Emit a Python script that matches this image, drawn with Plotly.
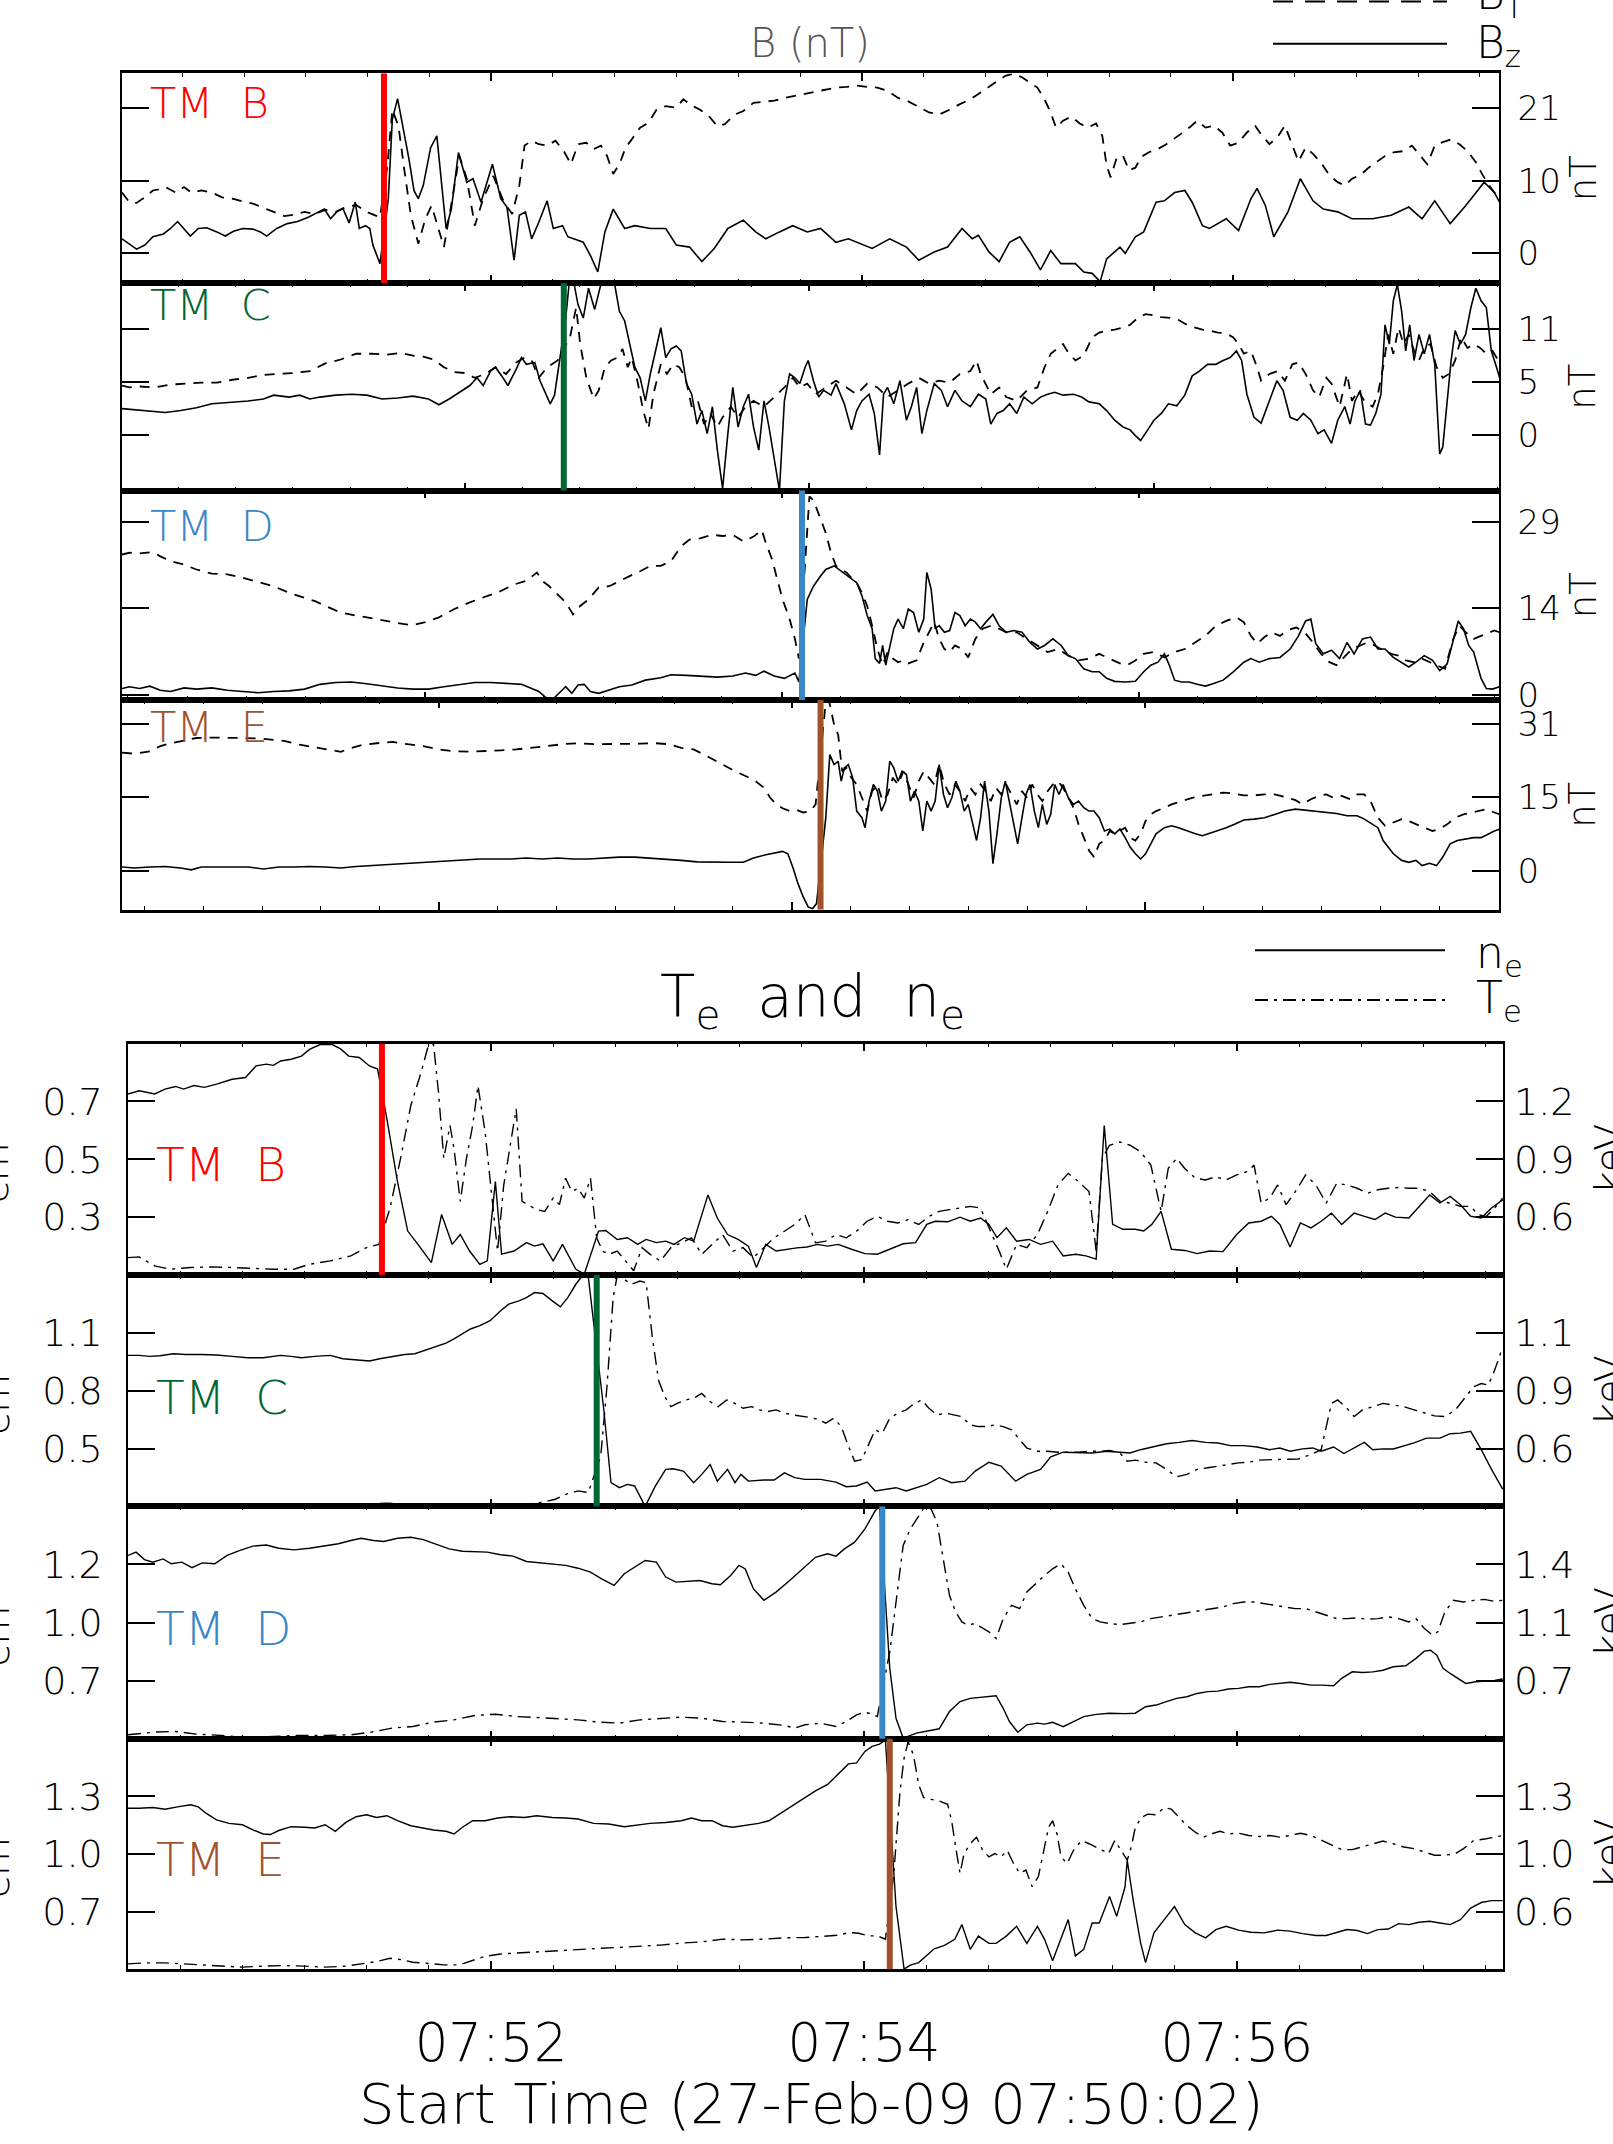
import plotly.graph_objects as go

# ------------------------------------------------------------------
# DATA  (time = seconds after 07:50:00 UT, 27-Feb-2009)
# ------------------------------------------------------------------
# Top block: magnetic field (nT); BT dashed, Bz solid
TOP_BT_B = [(0.5,8.8),(2.9,7.4),(5.2,7.3),(7.9,8.1),(10.5,9.1),(12.9,9.3),(14.5,9.6),(17.9,8.8),(20.6,9.6),(22.9,8.8),(26.2,9.1),(29.6,8.8),(32.9,8.1),(36.3,7.9),(39.6,7.5),(42.9,7.2),(47.3,6.4),(49.6,6.0),(53.0,5.4),(56.3,5.6),(59.6,6.0),(63.0,5.7),(66.3,6.3),(69.7,6.0),(73.0,6.7),(76.3,7.0),(79.7,6.0),(84.0,5.2),(86.4,12.7),(88.0,20.8),(90.0,18.4),(92.0,11.7),(94.0,5.5),(96.4,1.4),(98.7,5.0),(100.7,6.9),(102.7,4.0),(104.7,0.9),(107.4,7.9),(109.7,14.1),(112.1,10.8),(114.7,4.0),(117.4,7.9),(120.7,11.2),(124.1,7.4),(126.8,5.7),(129.1,9.8),(130.8,15.6),(133.1,16.3),(135.4,15.8),(138.1,15.6),(140.8,16.3),(143.5,14.8),(145.8,12.9),(148.1,15.8),(150.8,16.0),(153.2,15.1),(155.5,15.6),(157.5,14.1),(159.5,11.5),(161.5,12.9),(163.5,15.3),(165.5,16.5),(168.2,18.2),(170.9,18.9),(173.5,20.8),(176.5,21.3),(179.9,21.1),(182.2,22.3),(184.9,21.4),(187.6,20.8),(190.2,20.0),(193.2,18.4),(195.6,18.7),(198.9,20.1),(201.6,20.6),(204.9,21.8),(208.3,22.0),(211.6,22.1),(214.9,22.5),(218.3,22.8),(221.6,23.2),(225.0,23.5),(228.3,23.7),(231.6,24.0),(235.0,24.1),(238.3,24.3),(241.7,24.1),(245.0,24.0),(248.3,23.5),(251.7,22.5),(255.0,22.0),(258.4,21.2),(261.7,20.4),(265.0,20.1),(268.4,20.8),(271.7,21.6),(275.1,22.3),(278.4,23.3),(281.1,24.1),(283.8,24.9),(286.4,25.7),(289.1,26.0),(291.8,25.5),(294.4,24.7),(296.8,24.0),(299.1,22.3),(301.1,20.4),(302.8,18.2),(305.1,19.2),(307.8,19.8),(310.5,18.8),(313.1,18.2),(315.8,18.8),(317.8,17.0),(319.2,12.7),(320.5,11.0),(322.5,13.9),(324.5,14.1),(326.5,12.0),(328.5,12.4),(330.5,14.0),(333.2,14.7),(335.8,15.1),(338.5,15.8),(341.2,16.6),(343.9,17.5),(346.5,18.4),(348.5,19.2),(351.2,18.2),(353.9,18.5),(356.6,17.5),(359.2,15.6),(361.9,16.0),(364.6,17.5),(367.2,18.5),(369.2,17.2),(371.9,15.8),(374.6,16.9),(376.9,18.5),(379.3,15.6),(381.3,13.3),(383.6,15.3),(386.0,14.4),(388.6,13.1),(391.3,11.3),(394.0,10.3),(396.3,9.8),(398.6,10.8),(401.3,11.3),(404.0,12.4),(406.7,13.2),(409.3,14.1),(412.0,14.6),(415.3,14.8),(418.0,15.6),(420.7,14.1),(423.0,12.9),(425.4,15.6),(428.0,16.1),(430.7,16.5),(433.4,15.8),(436.0,14.8),(438.7,13.2),(440.7,11.5),(442.7,10.0),(444.7,8.8),(446.4,7.9)]
TOP_BZ_B = [(0.5,2.1),(2.9,1.3),(5.2,0.6),(7.9,1.2),(10.5,2.4),(13.9,2.8),(16.2,3.6),(18.5,4.6),(20.6,3.6),(22.6,2.5),(25.2,3.6),(27.9,3.7),(31.2,3.1),(33.9,2.5),(36.6,3.2),(39.6,3.6),(42.9,3.5),(45.3,3.1),(47.3,2.5),(50.6,3.6),(54.0,4.3),(57.3,4.6),(60.6,5.2),(64.0,6.0),(66.0,6.4),(68.0,5.0),(70.0,6.0),(72.0,6.5),(74.0,4.4),(76.0,7.4),(77.3,3.6),(79.3,4.0),(80.7,3.6),(81.7,1.2),(83.0,-0.3),(84.0,-1.5),(86.7,7.9),(88.0,19.4),(89.7,22.4),(91.4,18.4),(93.4,13.6),(95.0,9.1),(96.4,7.9),(98.0,9.8),(100.4,15.3),(102.4,17.0),(104.1,9.8),(105.4,3.6),(107.1,6.4),(109.4,14.6),(112.1,10.3),(114.1,10.8),(116.7,7.4),(120.4,12.9),(123.1,7.9),(125.1,6.7),(127.4,-1.0),(129.1,5.5),(131.1,6.0),(133.1,2.1),(135.4,4.5),(138.1,7.6),(140.1,3.6),(143.1,4.0),(144.8,2.4),(149.8,1.6),(152.1,-0.3),(154.5,-2.7),(156.8,3.1),(159.5,6.4),(163.2,3.6),(166.5,4.0),(171.5,3.6),(176.5,3.6),(179.9,1.2),(184.2,0.9),(188.2,-1.2),(192.2,0.7),(196.6,3.6),(201.6,4.8),(205.6,3.1),(208.9,2.1),(213.3,3.1),(217.6,4.0),(222.3,3.1),(226.6,3.6),(231.6,1.6),(235.6,2.1),(243.3,0.7),(249.0,2.1),(254.4,0.9),(258.4,-1.0),(263.4,0.2),(267.7,0.9),(272.4,3.6),(275.7,2.1),(277.7,2.6),(281.1,0.2),(284.4,-1.2),(287.8,1.6),(291.1,2.4),(294.4,0.2),(297.8,-2.4),(301.1,0.4),(304.4,-1.5),(309.1,-1.5),(311.8,-2.7),(314.5,-2.9),(317.1,-4.1),(319.2,-0.8),(321.8,0.2),(323.5,0.9),(325.2,0.0),(328.5,2.4),(331.2,3.1),(335.2,7.4),(337.9,7.6),(341.2,8.8),(344.5,9.1),(346.9,7.4),(350.2,4.0),(352.5,3.6),(357.9,5.0),(361.9,3.3),(365.9,7.9),(367.9,9.4),(370.6,6.9),(373.3,2.4),(377.9,6.0),(381.9,10.8),(386.0,7.6),(389.3,6.4),(394.0,6.0),(398.6,5.0),(405.3,5.0),(411.3,5.5),(417.0,6.7),(421.3,5.0),(425.4,7.6),(430.4,4.3),(435.4,6.9),(441.4,10.3),(444.7,8.8),(446.4,7.4)]
TOP_BT_C = [(0.5,5.1),(2.9,4.9),(6.2,5.0),(11.2,4.9),(16.2,5.2),(21.2,5.3),(26.2,5.4),(31.2,5.4),(36.3,5.7),(41.3,5.9),(46.3,6.2),(51.3,6.3),(56.3,6.4),(61.3,6.6),(66.3,7.4),(71.3,7.8),(76.3,8.4),(81.3,8.4),(86.4,8.3),(90.7,8.5),(94.7,8.2),(98.0,8.1),(101.4,7.8),(104.7,7.0),(108.1,6.5),(111.4,6.4),(114.7,5.9),(118.1,6.3),(121.4,7.0),(124.8,6.3),(128.1,7.5),(130.8,8.0),(133.1,7.7),(135.4,5.9),(138.1,7.0),(141.5,7.7),(145.5,10.1),(147.5,13.2),(148.8,9.4),(150.8,5.9),(153.2,3.7),(154.8,4.6),(156.8,7.0),(158.8,7.7),(160.8,8.0),(162.5,8.9),(164.2,7.0),(165.5,8.0),(167.5,5.3),(169.2,2.5),(170.9,0.6),(172.5,4.2),(174.9,7.3),(176.9,6.3),(178.9,7.3),(180.9,7.0),(182.9,5.9),(184.9,2.9),(186.9,3.5),(188.9,1.1),(190.9,2.2),(193.2,0.8),(194.9,1.8),(197.6,2.9),(199.9,1.8),(202.3,2.9),(204.9,3.5),(208.3,2.9),(211.6,3.9),(214.9,4.9),(217.6,5.9),(219.9,4.9),(222.3,5.3),(225.0,4.2),(228.3,4.9),(231.6,5.6),(235.0,4.9),(238.3,4.2),(241.7,5.3),(245.0,4.9),(248.3,3.9),(251.7,4.6),(255.0,5.3),(258.4,5.9),(261.7,5.3),(265.0,5.6),(268.4,5.4),(271.7,6.3),(275.1,6.6),(277.1,7.7),(278.4,6.3),(281.7,4.2),(284.4,4.9),(286.7,3.9),(290.1,3.5),(293.4,4.6),(296.8,4.9),(299.1,7.0),(301.1,8.4),(303.5,9.0),(305.1,9.4),(306.8,8.5),(309.1,7.7),(311.8,8.2),(314.5,10.1),(316.8,10.6),(319.2,10.8),(321.8,10.9),(324.5,11.1),(326.8,11.4),(329.2,12.1),(331.8,12.5),(334.5,12.4),(336.9,12.2),(340.2,12.1),(342.5,11.9),(345.2,11.4),(347.9,11.1),(350.2,10.9),(352.5,10.8),(355.2,10.6),(357.9,10.5),(360.2,10.1),(361.9,9.4),(363.6,8.4),(365.9,8.7),(367.9,7.0),(369.2,5.6),(371.9,6.3),(374.6,6.6),(376.9,5.6),(379.3,7.3),(381.3,7.5),(383.6,6.3),(386.0,4.6),(388.0,3.9),(390.3,5.9),(392.0,5.3),(394.6,2.9),(397.0,6.3),(398.6,3.5),(400.6,4.6),(402.6,3.5),(405.3,2.9),(407.0,4.2),(408.7,7.0),(410.3,10.4),(412.0,8.4),(413.7,11.1),(415.3,9.4),(417.0,10.4),(418.7,8.7),(420.3,7.7),(422.0,9.0),(424.0,9.4),(426.0,7.0),(428.0,5.9),(430.0,6.3),(432.0,7.7),(434.0,10.1),(436.0,9.0),(438.0,9.4),(440.1,9.0),(442.1,8.4),(444.1,8.7),(445.4,8.0),(446.4,7.7)]
TOP_BZ_C = [(0.5,2.7),(4.5,2.6),(9.5,2.4),(14.5,2.3),(19.5,2.5),(24.6,2.8),(29.6,3.2),(34.6,3.3),(41.3,3.5),(46.3,3.7),(49.6,4.1),(54.6,3.9),(58.0,4.1),(61.3,3.7),(64.6,3.9),(69.7,4.1),(74.7,4.2),(79.7,4.1),(84.7,3.7),(89.7,3.8),(94.7,4.0),(99.7,3.7),(103.1,3.1),(106.4,3.7),(109.7,4.4),(113.1,5.1),(115.4,5.9),(117.4,5.1),(119.8,6.6),(121.4,7.0),(123.8,5.9),(125.4,5.1),(128.1,6.8),(129.8,8.0),(131.4,7.3),(134.1,7.5),(135.8,5.6),(137.5,4.4),(139.1,3.2),(140.5,4.1),(141.8,7.0),(144.1,12.0),(145.5,16.6),(146.8,15.7),(148.1,13.5),(149.8,12.1),(151.5,15.2),(153.5,13.0),(155.5,15.6),(157.5,16.6),(159.8,15.9),(161.5,12.8),(163.2,11.8),(164.8,9.4),(166.5,7.0),(168.2,5.9),(169.9,3.5),(171.5,6.3),(173.5,9.0),(174.9,11.1),(176.5,8.0),(178.2,8.9),(179.9,9.2),(181.5,8.7),(183.2,5.3),(184.9,4.2),(186.6,1.1),(188.2,2.5),(189.9,0.1),(191.6,2.9),(193.2,-1.6),(194.9,-5.6),(196.6,0.1),(198.2,4.9),(199.9,0.8),(201.6,2.9),(203.3,4.2),(204.9,0.8),(206.6,-1.6),(208.3,3.5),(209.9,0.8),(211.6,-2.3),(213.3,-5.8),(214.9,3.5),(216.6,6.3),(218.3,5.9),(219.9,5.3),(221.6,7.0),(222.6,7.7),(224.3,5.6),(226.0,3.9),(227.6,4.6),(230.0,4.1),(231.6,5.3),(234.3,3.2),(236.6,0.5),(238.3,2.5),(240.0,3.5),(242.3,4.2),(244.0,2.2),(245.7,-2.1),(247.0,4.2),(248.3,4.9),(250.3,3.2),(252.3,5.6),(254.4,1.5),(256.0,2.9),(257.7,4.9),(259.4,0.1),(261.0,2.5),(263.4,5.3),(265.7,4.6),(267.7,2.9),(270.1,4.6),(272.4,3.5),(275.1,2.9),(277.7,4.2),(280.1,3.7),(281.7,1.1),(283.7,2.2),(285.7,2.5),(287.8,3.2),(290.1,2.2),(292.4,3.9),(295.1,3.2),(297.8,3.9),(300.1,4.2),(302.4,4.4),(305.1,4.1),(308.5,4.2),(311.1,3.9),(313.5,3.4),(316.8,3.2),(319.2,2.5),(321.8,1.5),(324.5,0.8),(326.8,0.5),(328.5,-0.1),(330.2,-0.6),(332.5,0.5),(334.5,1.5),(336.9,2.2),(339.2,3.2),(341.9,3.0),(344.5,4.1),(346.9,6.1),(349.2,6.6),(351.9,7.3),(354.6,7.3),(356.9,7.7),(359.2,8.0),(361.2,8.7),(362.9,7.7),(364.6,4.2),(366.9,1.8),(369.2,1.2),(371.9,3.5),(374.3,5.6),(376.3,4.6),(378.6,1.8),(380.9,1.5),(382.9,2.2),(385.3,1.5),(387.6,0.1),(389.6,0.5),(392.0,-0.9),(394.0,1.5),(396.3,2.9),(398.0,1.1),(399.6,3.5),(401.3,4.6),(403.0,1.1),(404.6,1.0),(406.3,2.2),(408.0,4.2),(409.3,11.4),(410.7,9.4),(412.0,13.9),(413.3,15.6),(414.7,12.8),(416.0,8.7),(417.3,11.4),(418.7,7.7),(420.3,10.4),(422.0,8.4),(423.7,10.4),(425.4,7.3),(427.0,-2.0),(428.0,-1.3),(429.4,3.5),(430.7,7.7),(432.0,10.8),(433.7,9.4),(435.4,10.4),(437.1,13.2),(438.7,15.2),(440.4,13.9),(442.1,13.2),(443.7,8.7),(445.4,7.0),(446.4,5.9)]
TOP_BT_D = [(0.5,23.5),(2.9,23.8),(6.2,23.7),(10.5,23.9),(12.9,23.2),(16.2,22.4),(20.6,21.8),(24.6,21.0),(29.6,20.3),(34.6,20.2),(39.6,19.6),(44.6,18.9),(49.6,18.2),(54.6,17.1),(59.6,16.3),(63.0,15.7),(66.3,14.9),(71.3,13.8),(76.3,13.3),(81.3,12.8),(86.4,12.3),(91.4,11.9),(94.7,11.7),(98.7,12.2),(103.1,13.0),(108.1,14.4),(113.1,15.5),(118.1,16.5),(123.1,17.4),(127.4,18.5),(131.4,19.1),(134.8,20.5),(136.5,19.1),(138.8,18.2),(141.5,16.9),(144.1,15.5),(146.5,13.5),(148.8,14.9),(151.5,16.0),(154.8,18.0),(158.2,18.2),(161.5,19.1),(164.8,19.9),(168.2,20.7),(171.5,21.6),(174.9,21.6),(178.2,22.4),(181.5,24.9),(184.2,26.0),(187.6,26.2),(191.6,26.8),(194.9,26.6),(198.2,26.8),(201.6,25.7),(204.9,26.5),(207.6,27.6),(208.9,25.4),(210.9,22.7),(212.3,19.9),(214.3,16.0),(216.6,12.7),(218.3,9.4),(219.6,6.1),(223.0,33.2),(224.3,32.6),(226.6,29.3),(228.3,27.1),(230.0,23.8),(231.6,21.6),(233.3,21.0),(235.0,20.5),(236.6,19.6),(238.3,18.8),(240.0,17.1),(241.7,14.9),(243.3,11.6),(245.0,7.7),(246.7,5.0),(248.3,7.2),(250.0,6.1),(251.7,5.5),(253.4,5.8),(255.0,5.3),(257.7,5.8),(260.0,8.8),(261.7,10.5),(263.4,12.2),(265.0,9.4),(266.7,7.7),(268.4,7.2),(270.1,8.3),(272.4,7.7),(274.4,6.3),(276.7,9.4),(279.1,11.1),(281.7,11.6),(284.4,11.1),(286.7,10.5),(290.1,10.5),(293.4,9.4),(296.8,8.3),(300.1,7.2),(303.5,7.7),(306.8,6.6),(310.1,5.8),(313.5,6.1),(316.8,6.9),(320.2,6.1),(323.5,5.3),(325.8,5.0),(328.5,5.8),(331.2,6.9),(334.5,7.2),(337.9,6.3),(341.2,7.2),(344.5,7.7),(347.9,8.8),(351.2,9.9),(354.6,11.6),(357.9,12.4),(361.2,13.0),(363.6,12.2),(365.9,9.9),(367.9,8.6),(370.3,9.7),(372.6,10.5),(375.3,9.9),(377.9,10.9),(380.6,11.3),(383.3,10.5),(386.0,8.8),(388.6,6.9),(391.3,5.5),(393.6,5.0),(396.0,6.3),(398.6,7.7),(401.3,8.3),(403.6,8.8),(406.0,8.3),(408.7,7.5),(411.3,6.9),(413.7,6.6),(416.0,5.8),(418.7,5.5),(421.3,6.1),(423.7,5.5),(426.0,5.0),(428.7,4.4),(431.4,9.4),(433.4,11.6),(435.4,10.5),(438.0,9.4),(440.4,9.9),(442.7,10.5),(444.7,10.8),(446.4,10.5)]
TOP_BZ_D = [(0.5,1.1),(2.9,1.4),(6.2,1.1),(9.5,1.5),(12.9,0.8),(16.2,0.6),(20.6,1.2),(24.6,1.0),(29.6,1.2),(34.6,0.8),(39.6,0.6),(44.6,0.4),(49.6,0.6),(54.6,0.7),(59.6,1.0),(64.6,1.8),(69.7,2.1),(74.7,2.2),(79.7,1.9),(84.7,1.5),(89.7,1.2),(94.7,1.0),(99.7,1.0),(104.7,1.4),(109.7,1.8),(114.7,2.1),(119.8,2.1),(124.8,1.9),(129.8,1.8),(133.1,1.1),(135.4,0.6),(138.1,-0.6),(140.5,-0.4),(142.5,0.6),(144.1,1.4),(146.1,0.3),(148.1,1.7),(150.1,1.8),(152.1,0.6),(154.8,0.3),(158.2,0.8),(161.5,1.4),(165.5,1.7),(169.9,2.5),(174.9,2.9),(178.2,3.4),(183.2,3.3),(188.2,3.2),(193.2,3.0),(198.2,3.2),(202.3,3.7),(205.6,3.3),(208.3,4.0),(211.6,3.2),(214.9,2.8),(218.3,3.7),(219.6,2.2),(222.3,16.0),(224.3,18.2),(226.6,19.9),(228.3,21.0),(231.0,21.6),(233.3,20.7),(235.6,19.9),(238.3,18.8),(240.0,16.6),(241.7,13.3),(243.3,11.1),(244.3,6.1),(245.7,5.3),(246.7,8.3),(247.7,5.0),(249.0,8.0),(250.3,11.1),(251.7,12.7),(253.4,11.1),(255.0,14.4),(256.7,13.8),(258.4,10.5),(260.0,12.7),(261.0,20.5),(262.4,17.7),(263.7,11.1),(265.0,11.6),(266.7,10.5),(268.4,10.8),(270.1,13.8),(271.7,13.3),(273.4,11.6),(275.1,12.7),(276.7,12.2),(278.4,11.1),(280.1,12.2),(282.4,13.5),(284.4,11.6),(286.7,10.5),(289.1,10.8),(291.8,10.5),(294.4,8.8),(296.8,7.7),(299.1,8.3),(301.8,9.4),(304.5,8.3),(306.8,6.6),(309.1,6.1),(311.8,4.4),(314.5,3.9),(316.8,3.9),(319.2,2.8),(321.8,2.3),(325.2,2.2),(328.5,2.3),(331.2,3.9),(333.5,5.0),(335.8,5.5),(337.9,6.9),(339.5,5.0),(341.2,2.5),(343.5,2.2),(345.9,2.2),(348.5,1.8),(351.2,1.5),(353.6,1.9),(356.9,2.5),(360.2,3.9),(363.6,5.5),(365.9,6.1),(368.6,5.5),(371.9,6.1),(375.3,6.3),(378.6,7.7),(381.3,9.9),(383.6,12.4),(385.3,12.7),(386.9,8.6),(389.3,6.9),(392.0,7.5),(394.6,6.1),(397.0,8.8),(399.3,6.9),(402.0,9.4),(404.6,9.7),(407.0,7.7),(409.3,7.7),(412.0,6.3),(414.7,5.5),(417.0,4.7),(419.3,5.5),(422.0,6.6),(424.7,5.8),(427.0,4.1),(429.4,5.2),(431.4,9.4),(433.0,12.4),(434.7,11.1),(436.4,8.3),(438.0,7.2),(440.4,2.8),(442.1,1.1),(444.1,1.0),(446.4,1.4)]
TOP_BT_E = [(0.5,24.9),(4.5,24.7),(9.5,25.2),(12.9,26.3),(16.2,26.9),(20.6,27.4),(24.6,28.0),(29.6,28.1),(34.6,28.1),(39.6,28.0),(44.6,27.9),(48.6,27.7),(53.0,27.4),(58.0,26.6),(63.0,26.0),(67.3,25.6),(71.3,25.1),(74.7,25.9),(78.7,26.6),(83.0,26.9),(88.0,27.2),(93.0,26.7),(98.0,26.3),(103.1,25.6),(108.1,25.2),(113.1,25.1),(118.1,25.2),(123.1,25.4),(128.1,25.6),(133.1,25.9),(138.1,26.3),(143.1,26.7),(148.1,26.9),(153.2,26.7),(158.2,26.7),(163.2,26.7),(168.2,26.8),(173.2,26.9),(177.5,26.7),(181.5,25.9),(185.5,25.6),(188.9,24.5),(192.2,23.3),(195.6,22.1),(198.9,21.0),(202.3,20.0),(205.6,18.9),(208.3,17.5),(210.3,15.4),(212.3,14.0),(214.3,13.2),(216.6,12.6),(219.0,12.8),(221.0,12.3),(223.3,12.6),(225.0,14.0),(228.3,35.7),(229.3,36.0),(231.0,30.8),(232.3,28.7),(233.6,21.0),(235.0,21.7),(236.6,19.6),(238.3,18.2),(240.0,15.4),(241.7,12.6),(243.3,16.8),(245.0,18.2),(246.7,14.7),(248.3,16.1),(250.0,19.6),(251.7,18.2),(253.4,21.0),(255.0,18.2),(256.7,15.4),(258.4,18.9),(260.0,21.0),(261.7,19.6),(263.4,18.2),(265.0,22.4),(266.7,18.2),(268.4,16.1),(270.1,18.2),(271.7,16.8),(273.4,14.7),(275.1,17.5),(276.7,16.1),(278.4,18.2),(280.1,16.8),(281.7,14.7),(283.4,17.5),(285.1,16.1),(286.7,18.2),(288.4,16.1),(290.1,14.0),(291.8,16.8),(293.4,15.4),(295.1,18.2),(296.8,16.1),(298.4,14.7),(300.1,16.8),(301.8,18.2),(303.5,18.9),(305.1,17.5),(306.8,15.4),(308.5,13.3),(310.1,9.8),(311.8,7.0),(313.5,4.3),(315.1,2.9),(316.8,5.7),(318.5,6.4),(320.2,8.4),(321.8,7.8),(323.5,8.4),(325.2,9.1),(326.8,7.0),(328.5,6.4),(330.2,7.8),(331.8,10.5),(333.5,11.9),(335.2,12.6),(337.9,13.3),(340.2,14.0),(343.5,14.7),(346.9,15.4),(350.2,15.8),(353.6,16.1),(356.9,16.5),(360.2,16.3),(363.6,15.9),(366.9,15.9),(370.3,16.1),(373.6,16.1),(376.9,15.6),(380.3,14.9),(382.6,14.0),(385.3,15.1),(387.9,15.8),(390.3,16.1),(392.6,15.4),(395.3,15.8),(398.0,15.1),(400.3,16.1),(402.6,16.1),(404.6,14.7),(407.0,11.2),(409.3,9.5),(412.0,10.2),(414.7,10.9),(417.0,10.5),(419.3,9.8),(422.0,9.1),(424.7,8.4),(427.0,8.8),(429.4,9.8),(432.0,11.2),(434.7,11.9),(437.1,12.3),(439.4,12.6),(442.1,13.0),(444.7,12.3),(446.4,11.9)]
TOP_BZ_E = [(0.5,0.8),(4.5,0.6),(9.5,0.8),(14.5,0.9),(19.5,0.6),(22.9,0.2),(26.2,0.8),(31.2,0.8),(36.3,0.9),(41.3,0.8),(46.3,0.4),(51.3,0.8),(56.3,0.8),(61.3,0.9),(66.3,0.8),(71.3,0.6),(76.3,0.9),(81.3,1.1),(86.4,1.3),(91.4,1.6),(96.4,1.8),(101.4,2.0),(106.4,2.2),(111.4,2.4),(116.4,2.5),(121.4,2.5),(126.4,2.5),(131.4,2.7),(136.5,2.5),(141.5,2.7),(146.5,2.5),(151.5,2.5),(156.5,2.7),(161.5,2.9),(166.5,2.9),(171.5,2.7),(176.5,2.5),(181.5,2.2),(186.6,1.9),(191.6,1.8),(196.6,1.8),(201.6,1.8),(204.9,2.7),(208.9,3.4),(212.3,3.9),(214.3,4.1),(216.0,3.6),(217.6,0.8),(219.3,-2.7),(221.0,-5.5),(222.6,-7.6),(224.0,-8.0),(225.3,-6.9),(228.3,11.2),(229.6,24.5),(231.0,22.4),(232.3,23.1),(233.3,18.9),(234.3,21.7),(235.6,22.4),(237.0,19.6),(238.3,12.6),(240.0,11.2),(241.0,9.1),(242.3,14.7),(243.7,18.2),(245.0,16.8),(246.3,12.6),(247.7,14.7),(249.0,23.1),(250.3,21.7),(251.7,18.9),(253.0,21.0),(254.4,20.3),(255.7,14.7),(257.0,16.8),(258.4,14.7),(259.7,8.4),(261.0,14.7),(262.4,12.6),(263.7,14.7),(265.0,22.4),(266.4,16.1),(267.7,13.3),(269.1,15.4),(270.4,18.9),(271.7,16.8),(273.1,12.6),(274.4,14.0),(275.7,10.5),(277.1,6.4),(278.4,11.2),(279.7,18.9),(281.1,12.6),(282.4,1.5),(283.7,7.8),(285.1,15.4),(286.4,18.9),(287.8,14.0),(289.1,9.8),(290.4,5.7),(291.8,11.2),(293.1,16.1),(294.4,18.2),(295.8,12.6),(297.1,9.1),(298.4,14.0),(299.8,9.8),(301.1,11.9),(302.4,18.2),(303.8,16.1),(305.1,18.2),(306.8,15.4),(308.5,14.0),(310.1,14.7),(311.8,13.3),(313.5,12.6),(315.1,12.6),(316.8,11.2),(318.5,8.4),(320.2,8.8),(321.8,7.8),(323.5,8.8),(325.2,7.0),(326.8,5.0),(328.5,3.6),(330.2,2.5),(331.8,3.6),(333.5,5.7),(335.2,7.8),(337.9,9.1),(340.2,9.5),(342.5,9.1),(345.2,8.4),(347.9,7.8),(350.2,7.4),(352.5,7.9),(355.2,8.4),(357.9,9.1),(360.6,9.8),(363.6,10.7),(366.9,10.9),(370.3,11.2),(373.6,11.9),(376.9,12.6),(380.3,13.0),(383.6,12.8),(386.9,12.5),(390.3,12.3),(393.6,12.1),(397.0,11.6),(400.3,11.6),(402.6,10.9),(405.3,9.8),(407.0,9.1),(408.7,6.4),(410.3,5.0),(412.0,3.6),(414.7,2.2),(417.0,1.8),(419.3,2.2),(421.3,1.1),(423.7,1.6),(426.0,1.1),(428.0,2.9),(430.4,5.7),(432.7,6.4),(435.4,6.7),(438.0,7.0),(440.4,7.0),(442.7,7.8),(444.7,8.4),(446.4,8.8)]

# Bottom block: electron density n_e (cm^-3, solid) and temperature T_e (keV, dash-dot)
NE_B = [(3.2,0.726),(6.8,0.737),(11.8,0.726),(15.1,0.743),(18.5,0.752),(21.1,0.743),(24.4,0.755),(27.8,0.749),(31.7,0.760),(36.7,0.777),(41.0,0.783),(44.4,0.823),(47.7,0.829),(50.0,0.825),(52.3,0.840),(55.7,0.846),(59.0,0.857),(61.6,0.880),(65.0,0.897),(68.9,0.897),(71.6,0.882),(74.2,0.857),(77.6,0.852),(80.9,0.823),(83.5,0.812),(86.5,0.640),(89.9,0.423),(93.2,0.252),(96.5,0.206),(100.8,0.143),(104.1,0.309),(107.5,0.206),(110.1,0.240),(113.1,0.183),(116.4,0.137),(118.8,0.149),(121.4,0.423),(123.4,0.172),(127.4,0.183),(131.4,0.212),(134.0,0.200),(136.7,0.208),(140.0,0.149),(143.0,0.206),(147.3,0.120),(150.0,0.103),(154.6,0.252),(156.9,0.254),(160.6,0.223),(163.9,0.229),(167.2,0.206),(169.9,0.223),(173.2,0.212),(176.2,0.217),(178.9,0.206),(182.2,0.229),(185.2,0.217),(189.8,0.377),(192.8,0.297),(196.1,0.240),(199.5,0.223),(202.8,0.200),(205.4,0.126),(208.4,0.206),(211.7,0.183),(215.1,0.189),(218.4,0.194),(221.7,0.197),(225.0,0.206),(228.3,0.200),(231.7,0.206),(236.0,0.189),(240.3,0.174),(244.3,0.172),(248.3,0.189),(252.6,0.208),(256.6,0.212),(260.2,0.275),(262.9,0.286),(266.9,0.284),(270.9,0.300),(274.2,0.286),(277.5,0.297),(280.2,0.275),(282.8,0.229),(285.8,0.263),(289.1,0.217),(293.1,0.223),(296.8,0.206),(300.7,0.217),(304.1,0.166),(308.1,0.172),(311.4,0.166),(314.7,0.155),(317.3,0.617),(320.0,0.275),(323.3,0.258),(327.3,0.258),(330.0,0.252),(332.6,0.275),(335.6,0.320),(338.9,0.189),(343.2,0.185),(347.2,0.174),(351.2,0.183),(355.5,0.181),(359.9,0.240),(363.8,0.280),(367.8,0.286),(371.1,0.303),(373.8,0.275),(377.1,0.197),(380.4,0.280),(383.8,0.263),(387.1,0.286),(390.4,0.314),(393.7,0.275),(397.7,0.314),(401.0,0.303),(404.4,0.292),(407.7,0.314),(411.0,0.300),(415.3,0.297),(418.6,0.337),(422.0,0.377),(425.3,0.349),(428.6,0.372),(431.9,0.343),(435.2,0.303),(438.6,0.297),(441.9,0.332),(445.5,0.360)]
TE_B = [(3.2,0.390),(6.8,0.394),(11.8,0.347),(16.8,0.330),(23.4,0.339),(30.1,0.342),(36.7,0.339),(43.4,0.334),(50.0,0.330),(56.6,0.330),(61.6,0.356),(68.3,0.373),(74.9,0.399),(79.9,0.442),(83.9,0.459),(87.5,0.647),(90.9,0.905),(94.2,1.179),(97.5,1.351),(99.8,1.488),(101.5,1.497),(103.1,1.248),(104.8,0.905),(106.8,1.076),(108.1,0.956),(110.1,0.682),(112.1,0.905),(114.1,1.076),(115.8,1.282),(118.1,1.042),(120.1,0.733),(122.1,0.424),(124.1,0.767),(126.1,0.973),(128.1,1.162),(130.0,0.682),(132.0,0.665),(134.7,0.639),(137.3,0.630),(140.0,0.699),(142.0,0.665),(144.0,0.802),(146.0,0.733),(148.0,0.750),(150.0,0.699),(152.0,0.802),(154.0,0.493),(155.9,0.424),(157.9,0.407),(160.6,0.424),(163.3,0.373),(165.9,0.322),(168.6,0.442),(171.2,0.407),(174.5,0.373),(177.9,0.442),(181.2,0.467),(184.5,0.493),(187.8,0.407),(191.1,0.459),(194.5,0.510),(197.8,0.424),(201.1,0.442),(204.4,0.390),(207.8,0.442),(211.1,0.493),(214.4,0.527),(217.7,0.562),(221.0,0.613),(224.4,0.467),(227.7,0.476),(231.0,0.510),(234.3,0.493),(237.6,0.527),(241.0,0.579),(244.3,0.604),(247.6,0.579),(250.9,0.570),(254.2,0.587),(257.6,0.562),(260.9,0.604),(264.2,0.630),(267.5,0.639),(270.9,0.647),(274.2,0.656),(277.5,0.647),(280.8,0.527),(283.5,0.424),(285.8,0.330),(289.1,0.459),(292.4,0.442),(295.8,0.510),(299.1,0.630),(302.4,0.767),(305.7,0.827),(309.0,0.785),(312.4,0.733),(314.7,0.424),(316.7,0.905),(319.0,0.973),(322.3,0.990),(325.6,0.973),(329.0,0.939),(332.3,0.870),(335.6,0.630),(337.9,0.853),(340.6,0.905),(343.2,0.853),(346.6,0.802),(349.9,0.793),(353.2,0.810),(356.5,0.793),(359.9,0.819),(363.2,0.836),(365.5,0.870),(367.8,0.673),(370.5,0.699),(373.1,0.767),(375.8,0.665),(378.8,0.733),(382.1,0.819),(385.4,0.767),(388.7,0.673),(392.1,0.776),(395.4,0.767),(398.7,0.750),(402.0,0.724),(405.3,0.742),(408.7,0.750),(412.0,0.754),(415.3,0.750),(418.6,0.750),(422.0,0.733),(425.3,0.682),(428.6,0.673),(431.9,0.656),(435.2,0.656),(437.6,0.613),(440.2,0.604),(442.9,0.647),(445.5,0.699)]
NE_C = [(3.2,0.983),(6.8,0.983),(10.2,0.978),(13.5,0.981),(17.8,0.992),(21.8,0.988),(26.8,0.988),(31.7,0.985),(36.7,0.978),(41.7,0.971),(46.7,0.971),(50.0,0.978),(52.3,0.983),(55.7,0.978),(59.0,0.971),(63.3,0.978),(68.3,0.983),(72.3,0.966),(76.6,0.961),(80.9,0.954),(84.2,0.966),(88.2,0.978),(92.2,0.988),(95.5,0.992),(98.8,1.009),(102.1,1.026),(105.5,1.047),(108.1,1.069),(110.8,1.095),(113.4,1.120),(116.4,1.138),(119.7,1.163),(123.1,1.215),(125.7,1.249),(129.0,1.266),(131.4,1.283),(134.0,1.309),(136.7,1.304),(139.7,1.266),(142.3,1.235),(144.7,1.283),(147.3,1.352),(149.3,1.395),(151.3,1.390),(156.3,0.700),(158.6,0.323),(161.3,0.297),(163.9,0.314),(166.2,0.306),(169.6,0.200),(172.9,0.306),(176.2,0.392),(178.5,0.395),(181.9,0.383),(185.2,0.323),(187.8,0.366),(190.5,0.417),(192.8,0.331),(196.1,0.392),(198.5,0.323),(200.4,0.366),(202.8,0.331),(207.8,0.337),(211.1,0.337),(214.4,0.374),(217.7,0.349),(221.0,0.340),(226.0,0.340),(231.0,0.326),(234.3,0.302),(237.6,0.306),(241.0,0.326),(243.6,0.280),(246.9,0.289),(250.3,0.297),(253.6,0.280),(256.9,0.297),(260.2,0.314),(264.2,0.349),(268.2,0.323),(272.5,0.331),(275.8,0.383),(280.2,0.429),(284.1,0.409),(288.8,0.331),(292.4,0.366),(296.8,0.392),(300.1,0.457),(304.1,0.481),(309.0,0.477),(313.4,0.477),(318.0,0.486),(322.3,0.481),(325.6,0.477),(329.0,0.494),(333.3,0.512),(337.3,0.525),(341.3,0.532),(345.6,0.542),(349.9,0.532),(353.9,0.529),(357.9,0.515),(362.2,0.515),(366.5,0.508),(370.5,0.494),(373.8,0.503),(377.1,0.486),(381.1,0.498),(384.4,0.503),(387.1,0.486),(391.1,0.508),(394.4,0.474),(397.7,0.503),(401.0,0.532),(403.7,0.494),(407.0,0.498),(410.3,0.498),(413.7,0.515),(417.0,0.529),(421.0,0.554),(425.3,0.554),(428.6,0.577),(431.9,0.580),(435.2,0.589),(438.6,0.494),(441.9,0.392),(445.5,0.289)]
TE_C = [(3.2,0.360),(8.5,0.355),(15.1,0.352),(21.8,0.357),(28.4,0.355),(35.1,0.354),(41.7,0.355),(48.3,0.352),(55.0,0.355),(61.6,0.357),(68.3,0.358),(74.9,0.355),(81.6,0.360),(86.5,0.364),(91.5,0.360),(98.2,0.355),(104.8,0.355),(111.4,0.355),(118.1,0.355),(124.7,0.358),(131.4,0.360),(136.4,0.367),(140.7,0.381),(144.0,0.402),(148.0,0.417),(151.3,0.410),(155.3,0.567),(157.3,0.867),(159.3,1.253),(160.6,1.346),(162.9,1.331),(165.2,1.310),(167.9,1.324),(169.9,1.317),(171.9,1.081),(173.9,0.895),(175.9,0.824),(177.9,0.781),(179.9,0.795),(182.5,0.810),(185.2,0.817),(187.8,0.838),(190.5,0.803),(193.1,0.781),(195.8,0.810),(198.5,0.795),(201.1,0.774),(203.8,0.781),(206.4,0.767),(209.1,0.760),(211.7,0.767),(214.4,0.753),(217.1,0.745),(219.7,0.741),(222.4,0.735),(225.0,0.727),(227.7,0.710),(230.3,0.731),(232.7,0.695),(235.0,0.610),(237.0,0.545),(239.3,0.552),(241.6,0.624),(243.6,0.681),(245.9,0.667),(248.3,0.731),(250.9,0.753),(253.6,0.767),(256.2,0.795),(258.6,0.810),(260.9,0.774),(263.5,0.745),(266.2,0.753),(268.9,0.745),(271.5,0.738),(274.2,0.702),(276.8,0.695),(279.5,0.695),(282.1,0.702),(284.8,0.695),(287.5,0.681),(290.1,0.638),(292.4,0.602),(295.8,0.588),(299.1,0.588),(302.4,0.584),(305.7,0.584),(309.0,0.584),(312.4,0.588),(315.7,0.588),(319.0,0.592),(322.3,0.581),(324.7,0.545),(327.3,0.550),(330.6,0.541),(334.0,0.538),(337.3,0.510),(340.6,0.478),(343.9,0.488),(347.2,0.510),(350.6,0.517),(353.9,0.524),(357.2,0.531),(360.5,0.538),(363.8,0.541),(367.2,0.550),(371.1,0.552),(375.5,0.552),(379.8,0.555),(383.8,0.574),(387.1,0.595),(390.4,0.795),(392.4,0.810),(395.4,0.774),(397.7,0.738),(400.4,0.767),(403.7,0.781),(407.0,0.795),(410.3,0.788),(413.7,0.781),(417.0,0.767),(420.3,0.753),(423.6,0.741),(426.9,0.738),(430.3,0.767),(433.6,0.824),(436.2,0.867),(438.6,0.881),(440.9,0.874),(442.9,0.938),(445.5,1.038)]
NE_D = [(3.2,1.239),(5.8,1.253),(8.5,1.221),(11.2,1.210),(14.5,1.224),(17.1,1.203),(20.5,1.210),(23.8,1.186),(27.1,1.207),(31.1,1.203),(35.1,1.239),(39.0,1.260),(43.4,1.279),(47.7,1.284),(51.7,1.270),(56.6,1.263),(61.6,1.270),(66.6,1.279),(70.9,1.289),(74.9,1.303),(78.2,1.313),(82.2,1.303),(85.5,1.299),(89.9,1.313),(94.2,1.317),(98.2,1.307),(102.1,1.289),(106.5,1.267),(110.8,1.257),(114.8,1.256),(118.8,1.253),(123.1,1.242),(127.1,1.236),(131.4,1.213),(135.4,1.207),(139.7,1.203),(144.0,1.196),(148.0,1.184),(152.0,1.167),(155.6,1.138),(159.6,1.110),(162.9,1.160),(166.2,1.188),(169.6,1.217),(173.2,1.210),(176.2,1.146),(179.5,1.124),(182.8,1.127),(187.2,1.131),(191.1,1.117),(193.8,1.113),(197.1,1.153),(199.8,1.196),(201.8,1.181),(204.4,1.096),(207.8,1.046),(211.7,1.081),(216.1,1.131),(220.4,1.181),(224.4,1.231),(228.3,1.246),(231.0,1.236),(233.7,1.267),(237.0,1.296),(240.3,1.353),(243.6,1.431),(245.0,1.450),(248.3,0.753),(250.3,0.538),(252.6,0.453),(256.9,0.474),(260.9,0.484),(264.2,0.493),(267.5,0.567),(270.9,0.610),(274.2,0.624),(279.2,0.631),(282.5,0.635),(284.8,0.581),(286.8,0.524),(289.5,0.478),(292.4,0.510),(295.8,0.517),(298.1,0.513),(300.7,0.521),(304.1,0.502),(307.4,0.524),(310.7,0.545),(314.7,0.555),(319.0,0.560),(324.0,0.558),(327.3,0.560),(330.6,0.588),(334.0,0.595),(337.3,0.610),(340.6,0.624),(343.9,0.631),(347.2,0.645),(350.6,0.653),(353.9,0.655),(357.2,0.664),(360.5,0.667),(363.8,0.674),(367.2,0.674),(370.5,0.684),(373.8,0.688),(377.1,0.693),(380.4,0.688),(383.8,0.681),(387.1,0.681),(391.1,0.678),(393.7,0.710),(397.1,0.738),(400.4,0.735),(403.7,0.738),(407.0,0.745),(410.3,0.760),(414.3,0.764),(417.6,0.796),(420.3,0.827),(422.3,0.831),(424.3,0.810),(426.3,0.753),(428.6,0.731),(430.9,0.710),(433.6,0.688),(436.9,0.695),(440.2,0.698),(442.9,0.701),(445.5,0.707)]
TE_D = [(3.2,0.374),(11.8,0.390),(18.5,0.394),(25.1,0.378),(33.4,0.370),(41.7,0.358),(50.0,0.364),(58.3,0.370),(66.6,0.370),(74.9,0.374),(81.6,0.390),(88.2,0.414),(94.8,0.424),(101.5,0.450),(108.1,0.464),(114.8,0.490),(121.4,0.498),(128.1,0.484),(134.7,0.478),(141.3,0.470),(148.0,0.464),(154.6,0.450),(161.3,0.444),(167.9,0.464),(174.5,0.474),(181.2,0.480),(187.8,0.474),(194.5,0.454),(201.1,0.450),(207.8,0.444),(214.4,0.430),(217.7,0.414),(221.0,0.434),(226.0,0.444),(231.0,0.424),(234.3,0.454),(237.6,0.494),(240.3,0.510),(242.6,0.498),(244.3,0.484),(248.3,0.874),(250.3,1.174),(252.6,1.514),(254.9,1.614),(257.6,1.694),(259.6,1.750),(261.6,1.734),(263.5,1.654),(265.5,1.434),(267.5,1.214),(269.5,1.114),(271.5,1.054),(273.5,1.034),(275.5,1.044),(277.5,1.024),(280.2,0.994),(282.5,0.954),(284.8,1.074),(287.5,1.154),(290.1,1.134),(292.4,1.234),(295.8,1.294),(298.1,1.334),(300.7,1.374),(303.4,1.404),(305.7,1.354),(308.0,1.254),(310.7,1.154),(313.4,1.074),(316.0,1.054),(319.0,1.044),(322.3,1.038),(325.6,1.044),(329.0,1.054),(332.3,1.074),(335.6,1.084),(338.9,1.094),(342.3,1.104),(345.6,1.114),(348.9,1.124),(352.2,1.134),(355.5,1.144),(358.8,1.164),(362.2,1.174),(365.5,1.174),(368.8,1.164),(372.1,1.154),(375.5,1.144),(378.8,1.134),(382.1,1.134),(385.4,1.114),(388.7,1.094),(392.1,1.074),(395.4,1.074),(398.7,1.078),(402.0,1.070),(405.3,1.074),(408.7,1.084),(412.0,1.074),(415.3,1.054),(417.6,1.074),(420.3,1.014),(422.9,0.974),(424.6,0.994),(426.9,1.114),(429.6,1.184),(432.9,1.174),(436.2,1.184),(439.6,1.190),(442.9,1.178),(445.5,1.184)]
NE_E = [(3.2,1.238),(6.8,1.238),(11.2,1.242),(15.1,1.233),(19.1,1.245),(23.4,1.256),(25.8,1.245),(28.4,1.211),(31.7,1.177),(35.7,1.159),(40.0,1.152),(43.4,1.125),(46.7,1.104),(49.0,1.101),(51.7,1.122),(55.7,1.142),(60.0,1.139),(63.3,1.135),(66.6,1.152),(69.9,1.118),(73.3,1.164),(76.6,1.194),(79.9,1.204),(83.2,1.190),(86.5,1.199),(89.9,1.173),(94.2,1.147),(98.2,1.135),(101.5,1.125),(105.5,1.118),(108.1,1.104),(110.8,1.139),(114.1,1.173),(118.1,1.173),(122.1,1.187),(126.4,1.194),(130.7,1.190),(134.7,1.199),(139.7,1.190),(144.0,1.187),(148.0,1.182),(153.0,1.159),(157.9,1.156),(162.9,1.142),(167.2,1.152),(171.2,1.159),(176.2,1.164),(181.2,1.173),(184.5,1.187),(187.8,1.173),(191.1,1.173),(194.5,1.147),(197.8,1.139),(201.8,1.147),(206.1,1.159),(209.4,1.173),(212.7,1.207),(216.1,1.242),(220.4,1.285),(224.4,1.328),(228.3,1.362),(231.7,1.414),(235.0,1.469),(237.6,1.474),(240.3,1.534),(242.6,1.560),(245.0,1.572),(246.9,1.594),(250.3,0.726),(252.9,0.400),(254.9,0.421),(257.6,0.434),(260.2,0.469),(262.6,0.506),(265.9,0.524),(269.2,0.555),(271.5,0.632),(274.2,0.503),(276.8,0.572),(280.2,0.534),(282.5,0.534),(285.8,0.572),(289.1,0.623),(292.4,0.534),(295.8,0.623),(298.1,0.555),(300.7,0.443),(303.4,0.555),(305.7,0.658),(308.0,0.469),(310.7,0.503),(313.4,0.640),(315.7,0.640),(319.0,0.778),(321.3,0.675),(324.0,0.829),(324.7,0.967),(326.6,0.761),(329.0,0.537),(330.6,0.434),(333.3,0.589),(336.6,0.658),(339.9,0.726),(343.2,0.632),(346.6,0.589),(349.9,0.563),(353.2,0.606),(356.5,0.623),(360.5,0.603),(364.5,0.592),(368.8,0.589),(373.1,0.603),(377.1,0.598),(381.1,0.585),(385.4,0.575),(388.7,0.575),(392.1,0.592),(395.4,0.606),(398.7,0.601),(402.0,0.585),(405.3,0.606),(408.7,0.609),(412.0,0.637),(415.3,0.632),(418.6,0.644),(422.0,0.649),(425.3,0.640),(428.6,0.632),(431.9,0.658),(435.2,0.718),(438.6,0.747),(441.9,0.757),(445.5,0.757)]
TE_E = [(3.2,0.282),(8.5,0.288),(15.1,0.288),(21.8,0.282),(28.4,0.276),(33.4,0.268),(40.0,0.262),(46.7,0.268),(53.3,0.272),(60.0,0.268),(66.6,0.262),(73.3,0.268),(78.2,0.282),(83.2,0.296),(87.5,0.316),(90.9,0.308),(94.8,0.292),(99.8,0.282),(104.8,0.276),(109.8,0.276),(114.1,0.302),(118.1,0.328),(123.1,0.342),(128.1,0.348),(134.7,0.356),(141.3,0.362),(148.0,0.372),(154.6,0.376),(161.3,0.382),(167.9,0.388),(174.5,0.396),(181.2,0.408),(187.8,0.416),(194.5,0.432),(201.1,0.428),(207.8,0.432),(214.4,0.440),(221.0,0.442),(227.7,0.452),(231.7,0.456),(235.0,0.472),(238.3,0.468),(241.6,0.452),(244.3,0.452),(246.9,0.432),(249.6,0.832),(251.6,1.332),(252.9,1.532),(254.2,1.632),(255.9,1.552),(257.6,1.372),(259.2,1.292),(261.6,1.282),(264.2,1.272),(266.9,1.252),(268.2,1.152),(269.5,0.992),(270.9,0.832),(272.2,0.952),(274.2,1.012),(276.2,1.052),(278.2,0.972),(280.2,0.932),(282.1,0.952),(284.1,0.932),(286.1,0.972),(288.1,0.892),(290.1,0.832),(292.1,0.852),(294.1,0.752),(296.1,0.812),(298.1,0.992),(299.4,1.112),(300.7,1.152),(302.1,1.072),(303.4,0.932),(305.4,0.892),(307.4,0.972),(310.0,1.032),(312.4,1.012),(314.7,0.992),(316.7,0.972),(318.7,0.952),(320.7,1.032),(322.7,0.972),(324.7,0.912),(326.0,0.992),(327.3,1.112),(329.3,1.172),(331.3,1.192),(334.0,1.188),(336.6,1.232),(338.9,1.222),(341.3,1.172),(343.9,1.122),(346.6,1.082),(349.2,1.052),(351.9,1.072),(354.5,1.088),(357.2,1.072),(360.5,1.076),(363.8,1.062),(367.2,1.056),(370.5,1.062),(373.8,1.052),(377.1,1.062),(380.4,1.076),(383.8,1.062),(387.1,1.032),(390.4,1.002),(393.7,0.976),(397.1,0.976),(400.4,0.992),(403.7,1.012),(407.0,1.028),(410.3,1.012),(413.7,0.992),(417.0,0.982),(420.3,0.962),(423.6,0.942),(426.9,0.942),(430.3,0.952),(432.9,0.982),(436.2,1.032),(440.2,1.042),(442.9,1.052),(445.5,1.062)]

TOP_EVENTS = [85.3, 143.5, 220.6, 226.6]      # onset lines, top block
BOT_EVENTS = [84.9, 154.0, 245.9, 248.3]      # onset lines, bottom block
PROBES = ["TM  B", "TM  C", "TM  D", "TM  E"]
PROBE_COLORS = ["#ff0000", "#006633", "#3b87c6", "#a0522d"]

TOP_YRANGE = [[-4.3, 26.04], [-5.8, 15.74], [-0.83, 34.2], [-8.17, 36.0]]
TOP_TICKVALS = [[0, 10.5, 21], [0, 5.5, 11], [0, 14.5, 29], [0, 15.5, 31]]
TOP_TICKTEXT = [["0", "10", "21"], ["0", "5", "11"], ["0", "14", "29"], ["0", "15", "31"]]
NE_RANGE = [[0.1, 0.9], [0.2, 1.4], [0.45, 1.45], [0.4, 1.6]]
NE_TICKVALS = [[0.3, 0.5, 0.7], [0.5, 0.8, 1.1], [0.7, 0.95, 1.2], [0.7, 1.0, 1.3]]
NE_TICKTEXT = [["0.3", "0.5", "0.7"], ["0.5", "0.8", "1.1"], ["0.7", "1.0", "1.2"], ["0.7", "1.0", "1.3"]]
TE_RANGE = [[0.3, 1.5], [0.35, 1.35], [0.35, 1.75], [0.25, 1.65]]
TE_TICKVALS = [[0.6, 0.9, 1.2], [0.6, 0.85, 1.1], [0.7, 1.05, 1.4], [0.6, 0.95, 1.3]]
TE_TICKTEXT = [["0.6", "0.9", "1.2"], ["0.6", "0.9", "1.1"], ["0.7", "1.1", "1.4"], ["0.6", "1.0", "1.3"]]
XTICKVALS = [120, 240, 360]
XTICKTEXT = ["07:52", "07:54", "07:56"]
# each magnetometer panel carries its own (unlabelled) time ticks
TOP_MAJOR_TICKS = [[120, 240, 360], [111.5, 222.8, 334.4], [98.5, 214.0, 329.7], [103.0, 217.3, 331.6]]
TOP_MINOR_STEP = [20, 18.56, 19.24, 19.05]
TOP_XRANGE = [0.5, 446.2]
BOT_XRANGE = [3.2, 445.6]

# ------------------------------------------------------------------
# LAYOUT (pixel geometry of the page)
# ------------------------------------------------------------------
W, H = 1613, 2144
FONT = "DejaVu Sans"
FW = 200
def fx(p):
    return p / W
def fy(p):
    return 1 - p / H
def xname(n):
    return "x" if n == 1 else f"x{n}"
def yname(n):
    return "y" if n == 1 else f"y{n}"
def xkey(n):
    return "xaxis" if n == 1 else f"xaxis{n}"
def ykey(n):
    return "yaxis" if n == 1 else f"yaxis{n}"
def font(size, color="black"):
    return dict(family=FONT, size=size, color=color, weight=FW)

TOP_X = (122, 1499)
TOP_Y = [(74, 285), (285, 494), (494, 705), (705, 916)]
BOT_X = (128, 1503)
BOT_Y = [(1051, 1284), (1284, 1517), (1517, 1751), (1751, 1983)]
TOP_LABEL_Y = [104, 307, 530, 732]
BOT_LABEL_Y = [1173, 1407, 1640, 1873]

TOP_BT = [TOP_BT_B, TOP_BT_C, TOP_BT_D, TOP_BT_E]
TOP_BZ = [TOP_BZ_B, TOP_BZ_C, TOP_BZ_D, TOP_BZ_E]
NE = [NE_B, NE_C, NE_D, NE_E]
TE = [TE_B, TE_C, TE_D, TE_E]

fig = go.Figure()
layout = dict(
    width=W, height=H, autosize=False,
    margin=dict(l=0, r=0, t=0, b=0),
    paper_bgcolor="white", plot_bgcolor="white", showlegend=False,
    font=font(36),
)
shapes = []
annotations = []

def xaxis_dict(dom, anchor, rng, labels, majors, step):
    d = dict(domain=[fx(dom[0]), fx(dom[1])], anchor=anchor, range=rng,
             showline=True, linewidth=2.5, linecolor="black", mirror="ticks",
             ticks="inside", ticklen=8, tickwidth=1.5, tickcolor="black",
             tickvals=majors, ticktext=XTICKTEXT, showgrid=False, zeroline=False,
             showticklabels=labels,
             minor=dict(dtick=step, tick0=majors[0], ticks="inside", ticklen=4, tickwidth=1.2,
                        tickcolor="black", showgrid=False))
    if labels:
        d["tickfont"] = font(53)
        d["ticklabelstandoff"] = 26
    return d

# ---- top block ----
for i in range(4):
    n = i + 1
    xa, ya = xname(n), yname(n)
    layout[xkey(n)] = xaxis_dict(TOP_X, ya, TOP_XRANGE, False, TOP_MAJOR_TICKS[i], TOP_MINOR_STEP[i])
    layout[ykey(n)] = dict(
        domain=[fy(TOP_Y[i][1]), fy(TOP_Y[i][0])], anchor=xa, side="right",
        range=TOP_YRANGE[i], tickvals=TOP_TICKVALS[i], ticktext=TOP_TICKTEXT[i],
        ticks="inside", ticklen=27, tickwidth=2, tickcolor="black",
        showline=True, linewidth=1.5, linecolor="black", mirror="ticks",
        showgrid=False, zeroline=False, ticklabelstandoff=10,
        tickfont=font(34))
    bt_t, bt_v = zip(*TOP_BT[i])
    bz_t, bz_v = zip(*TOP_BZ[i])
    fig.add_trace(go.Scatter(x=bt_t, y=bt_v, xaxis=xa, yaxis=ya, mode="lines",
                             line=dict(color="black", width=1.8, dash="10px,8px")))
    fig.add_trace(go.Scatter(x=bz_t, y=bz_v, xaxis=xa, yaxis=ya, mode="lines",
                             line=dict(color="black", width=1.6)))
    shapes.append(dict(type="line", xref=xa, yref=f"{ya} domain",
                       x0=TOP_EVENTS[i], x1=TOP_EVENTS[i], y0=0, y1=1,
                       line=dict(color=PROBE_COLORS[i], width=6)))
    annotations.append(dict(text=PROBES[i], xref="paper", yref="paper",
                            x=fx(148), y=fy(TOP_LABEL_Y[i]), xanchor="left", yanchor="middle",
                            showarrow=False, font=font(43, PROBE_COLORS[i])))
    annotations.append(dict(text="nT", xref="paper", yref="paper",
                            x=fx(1583), y=fy((TOP_Y[i][0] + TOP_Y[i][1]) / 2),
                            xanchor="center", yanchor="middle", textangle=-90, showarrow=False,
                            font=font(37)))

# ---- bottom block ----
for j in range(4):
    n = 5 + j
    m = 9 + j
    xa, ya, ya2 = xname(n), yname(n), yname(m)
    layout[xkey(n)] = xaxis_dict(BOT_X, ya, BOT_XRANGE, j == 3, XTICKVALS, 20)
    layout[ykey(n)] = dict(
        domain=[fy(BOT_Y[j][1]), fy(BOT_Y[j][0])], anchor=xa, side="left",
        range=NE_RANGE[j], tickvals=NE_TICKVALS[j], ticktext=NE_TICKTEXT[j],
        ticks="inside", ticklen=27, tickwidth=2, tickcolor="black",
        showline=True, linewidth=1.5, linecolor="black", mirror=True,
        showgrid=False, zeroline=False, ticklabelstandoff=16,
        tickfont=font(38))
    layout[ykey(m)] = dict(
        overlaying=ya, anchor=xa, side="right",
        range=TE_RANGE[j], tickvals=TE_TICKVALS[j], ticktext=TE_TICKTEXT[j],
        ticks="inside", ticklen=27, tickwidth=2, tickcolor="black",
        showline=False, showgrid=False, zeroline=False, ticklabelstandoff=10,
        tickfont=font(38))
    ne_t, ne_v = zip(*NE[j])
    te_t, te_v = zip(*TE[j])
    fig.add_trace(go.Scatter(x=ne_t, y=ne_v, xaxis=xa, yaxis=ya, mode="lines",
                             line=dict(color="black", width=1.4)))
    fig.add_trace(go.Scatter(x=te_t, y=te_v, xaxis=xa, yaxis=ya2, mode="lines",
                             line=dict(color="black", width=1.4, dash="13px,6px,3px,6px")))
    shapes.append(dict(type="line", xref=xa, yref=f"{ya} domain",
                       x0=BOT_EVENTS[j], x1=BOT_EVENTS[j], y0=0, y1=1,
                       line=dict(color=PROBE_COLORS[j], width=6)))
    annotations.append(dict(text=PROBES[j], xref="paper", yref="paper",
                            x=fx(154), y=fy(BOT_LABEL_Y[j]), xanchor="left", yanchor="middle",
                            showarrow=False, font=font(47, PROBE_COLORS[j])))
    yc = (BOT_Y[j][0] + BOT_Y[j][1]) / 2
    annotations.append(dict(text="keV", xref="paper", yref="paper",
                            x=fx(1610), y=fy(yc), xanchor="center", yanchor="middle",
                            textangle=-90, showarrow=False, font=font(40)))
    annotations.append(dict(text="cm<sup>-3</sup>", xref="paper", yref="paper",
                            x=fx(-8), y=fy(yc), xanchor="center", yanchor="middle",
                            textangle=-90, showarrow=False, font=font(40)))

# ---- titles and legends ----
annotations.append(dict(text="B (nT)", xref="paper", yref="paper", x=fx(810), y=fy(43),
                        xanchor="center", yanchor="middle", showarrow=False,
                        font=font(40, "#555555")))
annotations.append(dict(text="B<sub>T</sub>", xref="paper", yref="paper", x=fx(1474), y=fy(-4),
                        xanchor="left", yanchor="middle", showarrow=False, font=font(44)))
annotations.append(dict(text="B<sub>z</sub>", xref="paper", yref="paper", x=fx(1474), y=fy(46),
                        xanchor="left", yanchor="middle", showarrow=False, font=font(44)))
shapes.append(dict(type="line", xref="paper", yref="paper", x0=fx(1273), x1=fx(1447),
                   y0=fy(1.5), y1=fy(1.5), line=dict(color="black", width=2, dash="20px,12px")))
shapes.append(dict(type="line", xref="paper", yref="paper", x0=fx(1273), x1=fx(1447),
                   y0=fy(44), y1=fy(44), line=dict(color="black", width=2)))

annotations.append(dict(text="T<sub>e</sub>  and  n<sub>e</sub>", xref="paper", yref="paper",
                        x=fx(812), y=fy(1008), xanchor="center", yanchor="middle", showarrow=False,
                        font=font(58)))
annotations.append(dict(text="n<sub>e</sub>", xref="paper", yref="paper", x=fx(1474), y=fy(962),
                        xanchor="left", yanchor="middle", showarrow=False, font=font(44)))
annotations.append(dict(text="T<sub>e</sub>", xref="paper", yref="paper", x=fx(1474), y=fy(1008),
                        xanchor="left", yanchor="middle", showarrow=False, font=font(44)))
shapes.append(dict(type="line", xref="paper", yref="paper", x0=fx(1255), x1=fx(1445),
                   y0=fy(957), y1=fy(957), line=dict(color="black", width=2)))
shapes.append(dict(type="line", xref="paper", yref="paper", x0=fx(1255), x1=fx(1445),
                   y0=fy(1007), y1=fy(1007), line=dict(color="black", width=2, dash="13px,6px,3px,6px")))

annotations.append(dict(text="Start Time (27-Feb-09 07:50:02)", xref="paper", yref="paper",
                        x=fx(811), y=fy(2118), xanchor="center", yanchor="middle", showarrow=False,
                        font=font(56)))

layout["shapes"] = shapes
layout["annotations"] = annotations
fig.update_layout(**layout)
fig.write_html("out.html")
